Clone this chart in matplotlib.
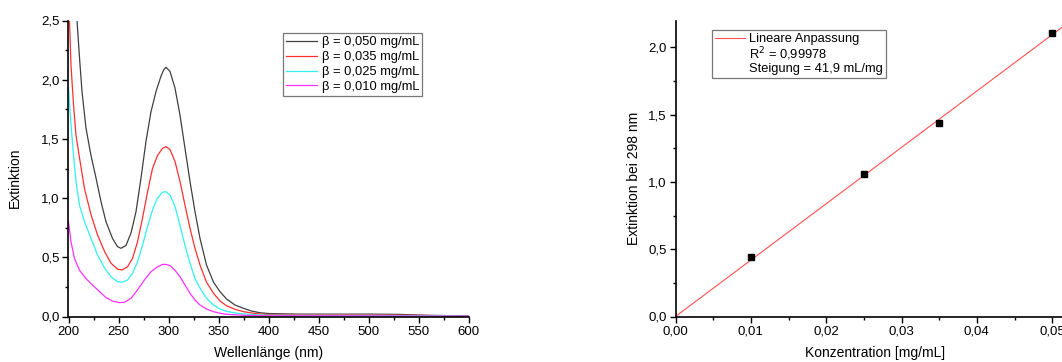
import matplotlib
matplotlib.use("Agg")
import matplotlib.pyplot as plt
from matplotlib.ticker import MultipleLocator, FuncFormatter
from matplotlib.lines import Line2D
from matplotlib.patches import Rectangle

plt.rcParams['font.family'] = ['Liberation Sans', 'DejaVu Sans']

# ---- spectra data (wavelength nm, extinction) ----
wl_050 = [206, 208.5, 210.8, 213.5, 217.5, 222.5, 227.5, 232.5, 237.5, 244, 249, 252.5, 257.5, 262.5, 267.5,
          272.5, 277.5, 282.5, 287.5, 292.5, 295, 297.5, 301.5, 306.5, 311.5, 316.5, 321.5, 326.5, 331.5,
          338, 345, 351.5, 358, 366.5, 375, 383, 391.5, 400, 430, 500, 530, 560, 600]
ext_050 = [2.85, 2.5, 2.21, 1.90, 1.59, 1.36, 1.17, 0.97, 0.80, 0.66, 0.59, 0.576, 0.60, 0.705, 0.885,
           1.17, 1.48, 1.73, 1.90, 2.03, 2.08, 2.105, 2.07, 1.93, 1.70, 1.42, 1.14, 0.885, 0.66,
           0.435, 0.29, 0.21, 0.148, 0.097, 0.069, 0.046, 0.032, 0.025, 0.02, 0.02, 0.018, 0.01, 0.005]

wl_035 = [200, 201, 202.5, 205, 207.5, 211, 216, 222.5, 229, 236, 242.5, 249, 253.5, 259, 264, 269, 274,
          279, 284, 289, 294, 297.5, 301.5, 306.5, 311.5, 316.5, 321.5, 326.5, 331.5, 338, 345, 351.5,
          358, 366.5, 375, 383, 391.5, 400, 500, 600]
ext_035 = [2.6, 2.49, 2.12, 1.79, 1.53, 1.34, 1.08, 0.86, 0.69, 0.55, 0.45, 0.40, 0.393, 0.42, 0.49, 0.63, 0.83,
           1.05, 1.25, 1.36, 1.42, 1.435, 1.41, 1.31, 1.14, 0.94, 0.745, 0.576, 0.435, 0.29, 0.196, 0.131,
           0.091, 0.061, 0.041, 0.03, 0.021, 0.017, 0.015, 0.004]

wl_025 = [200, 202.5, 205, 207.5, 211, 216, 222.5, 229, 236, 242.5, 249, 253.5, 259, 264, 269, 274, 279,
          284, 289, 294, 297.5, 301.5, 306.5, 311.5, 316.5, 321.5, 326.5, 331.5, 338, 345, 351.5, 358,
          366.5, 375, 391.5, 400, 500, 600]
ext_025 = [1.93, 1.62, 1.36, 1.14, 0.94, 0.80, 0.66, 0.52, 0.41, 0.336, 0.294, 0.289, 0.308, 0.365, 0.46, 0.60, 0.76,
           0.90, 1.0, 1.05, 1.054, 1.026, 0.93, 0.77, 0.60, 0.45, 0.32, 0.24, 0.154, 0.097, 0.063, 0.044,
           0.03, 0.021, 0.013, 0.011, 0.01, 0.003]

wl_010 = [200, 202.5, 206, 211, 217.5, 224, 231, 237.5, 244, 251, 256, 262.5, 269, 276, 282.5, 289, 294,
          297.5, 301.5, 306.5, 311.5, 316.5, 321.5, 326.5, 331.5, 338, 345, 351.5, 358, 375, 400, 500, 600]
ext_010 = [0.80, 0.63, 0.49, 0.39, 0.32, 0.266, 0.21, 0.16, 0.13, 0.117, 0.12, 0.154, 0.224, 0.31, 0.378, 0.42, 0.44,
           0.44, 0.43, 0.39, 0.336, 0.266, 0.196, 0.139, 0.097, 0.063, 0.041, 0.027, 0.019, 0.01, 0.006, 0.005, 0.002]

labels = ["β = 0,050 mg/mL", "β = 0,035 mg/mL", "β = 0,025 mg/mL", "β = 0,010 mg/mL"]
colors = ["#404040", "#ff3030", "#30f0f0", "#ff30ff"]

# ---- calibration data ----
conc = [0.010, 0.025, 0.035, 0.050]
ext_298 = [0.44, 1.06, 1.44, 2.11]
slope = 41.9
fit_x = [0.0, 0.0515]
fit_label = "Lineare Anpassung"
r2_text = "R$^{2}$ = 0,99978"
slope_text = "Steigung = 41,9 mL/mg"

W, H = 1062, 362
fig = plt.figure(figsize=(W / 100, H / 100), dpi=100)

def comma(fmt):
    return FuncFormatter(lambda v, p: (fmt % v).replace('.', ','))

def style(ax):
    for s in ['top', 'right']:
        ax.spines[s].set_visible(False)
    for s in ['left', 'bottom']:
        ax.spines[s].set_linewidth(1.2)
    ax.tick_params(which='major', direction='out', length=4, width=1, labelsize=9.5, pad=2.5)
    ax.tick_params(which='minor', direction='out', length=2.5, width=1)

AX_H = 296
# left axes
ax1 = fig.add_axes([68.5 / W, 1 - 316.5 / H, 400 / W, AX_H / H])
series = [(wl_050, ext_050), (wl_035, ext_035), (wl_025, ext_025), (wl_010, ext_010)]
for (x, y), c, lab in zip(series, colors, labels):
    ax1.plot(x, y, color=c, lw=0.9, label=lab)
ax1.set_xlim(200, 600)
ax1.set_ylim(0, 2.5)
ax1.xaxis.set_major_locator(MultipleLocator(50))
ax1.xaxis.set_minor_locator(MultipleLocator(25))
ax1.yaxis.set_major_locator(MultipleLocator(0.5))
ax1.yaxis.set_minor_locator(MultipleLocator(0.25))
ax1.yaxis.set_major_formatter(comma('%.1f'))
ax1.xaxis.set_major_formatter(FuncFormatter(lambda v, p: '%d' % v))
style(ax1)
ax1.set_xlabel("Wellenlänge (nm)", fontsize=10)
ax1.set_ylabel("Extinktion", fontsize=10)
ax1.yaxis.set_label_coords((22 - 68.5) / 400, (316.5 - 178) / AX_H)
ax1.xaxis.set_label_coords(0.5, (316.5 - 345.5) / AX_H)
leg = ax1.legend(loc='upper left', bbox_to_anchor=((283 - 68.5) / 400, (316.5 - 33) / AX_H),
                 fontsize=9.3, frameon=True, fancybox=False, borderpad=0.25,
                 handlelength=2.4, handletextpad=0.35, labelspacing=0.22, borderaxespad=0)
leg.get_frame().set_edgecolor('#555555')
leg.get_frame().set_linewidth(0.9)

# right axes
RX0 = 675.5
RW = W - RX0
ax2 = fig.add_axes([RX0 / W, 1 - 316.5 / H, RW / W, AX_H / H])
ax2.plot(fit_x, [slope * v for v in fit_x], color='#ff5050', lw=0.8)
ax2.plot(conc, ext_298, linestyle='none', marker='s', color='black', markersize=4.5)
ax2.set_xlim(0, 0.0513)
ax2.set_ylim(0, 2.2)
ax2.xaxis.set_major_locator(MultipleLocator(0.01))
ax2.xaxis.set_minor_locator(MultipleLocator(0.005))
ax2.yaxis.set_major_locator(MultipleLocator(0.5))
ax2.yaxis.set_minor_locator(MultipleLocator(0.25))
ax2.yaxis.set_major_formatter(comma('%.1f'))
ax2.xaxis.set_major_formatter(comma('%.2f'))
style(ax2)
ax2.set_xlabel("Konzentration [mg/mL]", fontsize=10)
ax2.set_ylabel("Extinktion bei 298 nm", fontsize=10)
ax2.yaxis.set_label_coords((641 - RX0) / RW, (316.5 - 178) / AX_H)
ax2.xaxis.set_label_coords((875 - RX0) / RW, (316.5 - 345.5) / AX_H)
h_fit = Line2D([], [], color='#ff5050', lw=0.8)
h_blank = Rectangle((0, 0), 0, 0, alpha=0)
leg2 = ax2.legend([h_fit, h_blank, h_blank], [fit_label, r2_text, slope_text],
                  loc='upper left', bbox_to_anchor=((712 - RX0) / RW, (316.5 - 30) / AX_H),
                  fontsize=9.3, frameon=True, fancybox=False, borderpad=0.25,
                  handlelength=2.3, handletextpad=0.35, labelspacing=0.0, borderaxespad=0)
leg2.get_frame().set_edgecolor('#555555')
leg2.get_frame().set_linewidth(0.9)

fig.savefig("out.png", dpi=100)
